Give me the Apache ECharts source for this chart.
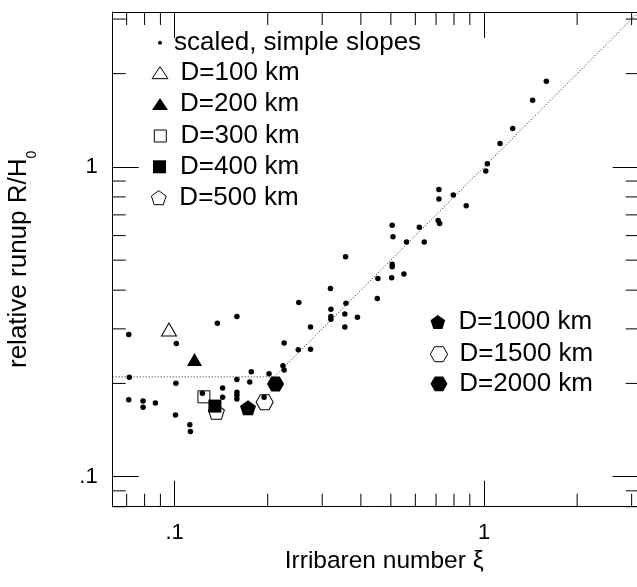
<!DOCTYPE html>
<html><head><meta charset="utf-8">
<script src="https://cdn.jsdelivr.net/npm/echarts@6/dist/echarts.min.js"></script>
<style>html,body{margin:0;padding:0;background:#fff}#c{width:637px;height:587px}</style>
</head><body><div id="c"></div>
<script>
// ---- axis ranges & ticks ----
const xMin = 0.0631, xMax = 3.162;
const yMin = 0.08, yMax = 3.162;
const xMinorTicks = [0.07, 0.08, 0.09, 0.2, 0.3, 0.4, 0.5, 0.6, 0.7, 0.8, 0.9, 2, 3];
const yMinorTicks = [0.08, 0.09, 0.2, 0.3, 0.4, 0.5, 0.6, 0.7, 0.8, 0.9, 2, 3];
const majorTickLabels = ['.1', '1'];   // labels for 0.1 and 1

// ---- data: scaled, simple slopes ----
const simpleX = [1.59, 1.436, 1.238, 1.127, 1.025, 1.013, 0.715, 0.715, 0.796, 0.876,
  0.711, 0.719, 0.618, 0.505, 0.508, 0.562, 0.641, 0.357, 0.505, 0.505,
  0.551, 0.503, 0.454, 0.319, 0.452, 0.252, 0.358, 0.320, 0.355, 0.320,
  0.320, 0.390, 0.355, 0.275, 0.1375, 0.159, 0.226, 0.251, 0.275, 0.0711,
  0.1013, 0.224, 0.226, 0.177, 0.202, 0.0714, 0.159, 0.175, 0.101, 0.143,
  0.159, 0.143, 0.159, 0.159, 0.123, 0.0711, 0.0791, 0.0791, 0.0867, 0.1007,
  0.112, 0.1125, 0.1947];
const simpleY = [1.89, 1.64, 1.33, 1.19, 1.024, 0.969, 0.846, 0.787, 0.811, 0.749,
  0.671, 0.657, 0.639, 0.648, 0.595, 0.572, 0.572, 0.513, 0.485, 0.476,
  0.451, 0.439, 0.436, 0.405, 0.376, 0.365, 0.363, 0.347, 0.335, 0.329,
  0.322, 0.327, 0.304, 0.304, 0.313, 0.329, 0.270, 0.257, 0.258, 0.2875,
  0.269, 0.228, 0.221, 0.218, 0.215, 0.2095, 0.206, 0.202, 0.2003, 0.1934,
  0.1874, 0.1805, 0.183, 0.178, 0.186, 0.177, 0.1756, 0.1675, 0.173, 0.1582,
  0.147, 0.140, 0.1805];

// ---- data: basin width runs (xi, R/H0) ----
const dNames = ['D=100 km', 'D=200 km', 'D=300 km', 'D=400 km', 'D=500 km', 'D=1000 km', 'D=1500 km', 'D=2000 km'];
const dX = [0.0959, 0.116, 0.1244, 0.135, 0.1365, 0.1727, 0.1955, 0.212];
const dY = [0.2985, 0.239, 0.181, 0.169, 0.162, 0.167, 0.174, 0.199];

// ---- fit line ----
const fitX = [0.0631, 0.21, 3.162];
const fitY = [0.21, 0.21, 3.162];

// ---- styling ----
const FONT = 'Liberation Sans, Arial, Helvetica, sans-serif';
const PENT = 'path://M50,0 L97.55,34.55 L79.39,90.45 L20.61,90.45 L2.45,34.55 Z';
const HEX = 'path://M0,43.3 L25,0 L75,0 L100,43.3 L75,86.6 L25,86.6 Z';
const OPEN = {color: 'rgba(0,0,0,0)', borderColor: '#000', borderWidth: 1, opacity: 1};
const FILL = {color: '#000', borderColor: '#000', borderWidth: 0, opacity: 1};
const dStyle = [
  {symbol: 'triangle', size: [15, 13], st: OPEN},
  {symbol: 'triangle', size: [15, 13], st: FILL},
  {symbol: 'rect', size: [12, 12], st: OPEN},
  {symbol: 'rect', size: [13, 13], st: FILL},
  {symbol: PENT, size: [16, 15], st: OPEN},
  {symbol: PENT, size: [16, 15], st: FILL},
  {symbol: HEX, size: [17, 15], st: OPEN},
  {symbol: HEX, size: [17, 15], st: FILL}
];
// legend layout: icon center (cx, cy), icon size (w, h), text start tx
const legLayout = [
  {cx: 159.5, cy: 72.7, w: 16, h: 12, tx: 180},
  {cx: 160, cy: 104, w: 16, h: 12, tx: 180},
  {cx: 159.8, cy: 136, w: 12, h: 12, tx: 180},
  {cx: 159.5, cy: 166.8, w: 13, h: 13, tx: 180},
  {cx: 159.4, cy: 197.7, w: 17, h: 14, tx: 180},
  {cx: 438.7, cy: 322, w: 16.4, h: 14, tx: 459.3},
  {cx: 438.7, cy: 354.2, w: 17.8, h: 15, tx: 459.3},
  {cx: 439, cy: 383.8, w: 17, h: 15, tx: 459.3}
];

function labelFmt(v) {
  const l = Math.log10(v);
  if (Math.abs(l + 1) < 1e-6) return majorTickLabels[0];
  if (Math.abs(l) < 1e-6) return majorTickLabels[1];
  return '';
}

function minorX(params, api) {
  const cs = params.coordSys;
  const x = api.coord([api.value(0), 1])[0];
  const b = cs.y + cs.height, t = cs.y;
  const ls = {stroke: '#000', lineWidth: 1};
  return {type: 'group', children: [
    {type: 'line', shape: {x1: x, y1: b, x2: x, y2: b - 13}, style: ls},
    {type: 'line', shape: {x1: x, y1: t, x2: x, y2: t + 13}, style: ls}
  ]};
}
function minorY(params, api) {
  const cs = params.coordSys;
  const y = api.coord([1, api.value(1)])[1];
  const l = cs.x, r = cs.x + cs.width;
  const ls = {stroke: '#000', lineWidth: 1};
  return {type: 'group', children: [
    {type: 'line', shape: {x1: l, y1: y, x2: l + 13, y2: y}, style: ls},
    {type: 'line', shape: {x1: r, y1: y, x2: r - 13, y2: y}, style: ls}
  ]};
}

function axisCommon(min, max) {
  return {
    type: 'log', logBase: 10, min: min, max: max,
    axisLine: {show: true, lineStyle: {color: '#000', width: 1}},
    axisTick: {show: true, inside: true, length: 26, lineStyle: {color: '#000', width: 1}},
    splitLine: {show: false},
    axisLabel: {show: true, formatter: labelFmt, color: '#000', fontSize: 22, fontFamily: FONT}
  };
}

const xAxisB = Object.assign(axisCommon(xMin, xMax), {
  position: 'bottom', name: 'Irribaren number ξ', nameLocation: 'middle', nameGap: 42.5,
  nameTextStyle: {color: '#000', fontSize: 24.5, fontFamily: FONT, padding: [0, 0, 0, 17]}
});
xAxisB.axisLabel.margin = 15;
const xAxisT = Object.assign(axisCommon(xMin, xMax), {position: 'top'});
xAxisT.axisLabel = {show: false};
const yAxisL = Object.assign(axisCommon(yMin, yMax), {
  position: 'left', name: '{a|relative runup R/H}{b|0}', nameLocation: 'middle', nameGap: 54, nameRotate: 90,
  nameTextStyle: {color: '#000', fontFamily: FONT, fontSize: 26, rich: {
    a: {fontSize: 26, fontFamily: FONT, color: '#000', lineHeight: 26, verticalAlign: 'top'},
    b: {fontSize: 14, fontFamily: FONT, color: '#000', lineHeight: 52.4}
  }}
});
yAxisL.axisLabel.margin = 15;
const yAxisR = Object.assign(axisCommon(yMin, yMax), {position: 'right'});
yAxisR.axisLabel = {show: false};
yAxisR.axisLine = {show: false};

const series = [];
series.push({type: 'line', name: 'fit', data: fitX.map((x, i) => [x, fitY[i]]), showSymbol: false, silent: true,
  lineStyle: {color: '#222', width: 1, type: [1, 2]}, z: 1});
dNames.forEach((n, i) => {
  series.push({type: 'scatter', name: n, data: [[dX[i], dY[i]]], symbol: dStyle[i].symbol,
    symbolSize: dStyle[i].size, itemStyle: dStyle[i].st, z: 2});
});
series.push({type: 'scatter', name: 'scaled, simple slopes', data: simpleX.map((x, i) => [x, simpleY[i]]),
  symbol: 'circle', symbolSize: 5.5, itemStyle: {color: '#000', opacity: 1}, z: 3});
series.push({type: 'custom', name: 'xminor', silent: true, renderItem: minorX, data: xMinorTicks.map(v => [v, 1]), z: 4});
series.push({type: 'custom', name: 'yminor', silent: true, renderItem: minorY, data: yMinorTicks.map(v => [1, v]), z: 4});

const legendText = {color: '#000', fontSize: 26, fontFamily: FONT, lineHeight: 26};
const legends = [{
  orient: 'vertical', left: 158, top: 42.7 - 13, padding: 0, itemWidth: 4, itemHeight: 4,
  selectedMode: false, textStyle: Object.assign({}, legendText, {padding: [0, 0, 0, 7]}),
  data: [{name: 'scaled, simple slopes', icon: 'circle', itemStyle: {color: '#000', opacity: 1}}]
}];
legLayout.forEach((L, i) => {
  const left = L.cx - L.w / 2;
  const pad = L.tx - (left + L.w + 5);
  legends.push({
    orient: 'vertical', left: left, top: L.cy - 15, padding: 0, itemWidth: L.w, itemHeight: L.h,
    selectedMode: false, textStyle: Object.assign({}, legendText, {padding: [4, 0, 0, pad]}),
    data: [{name: dNames[i], icon: dStyle[i].symbol, itemStyle: dStyle[i].st}]
  });
});

const option = {
  animation: false,
  backgroundColor: '#fff',
  grid: {left: 112.7, top: 12, width: 526, height: 494.7, show: false, outerBoundsMode: 'none', containLabel: false},
  xAxis: [xAxisB, xAxisT],
  yAxis: [yAxisL, yAxisR],
  legend: legends,
  series: series
};
const chart = echarts.init(document.getElementById('c'), null, {renderer: 'canvas'});
chart.setOption(option);
</script></body></html>
